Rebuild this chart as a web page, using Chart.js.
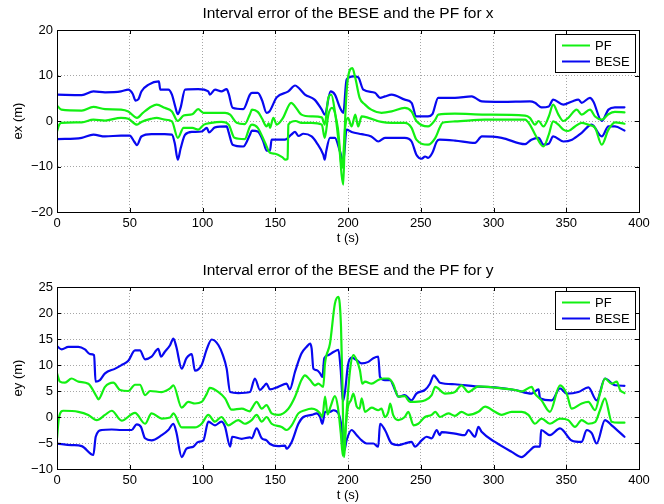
<!DOCTYPE html>
<html>
<head>
<meta charset="utf-8">
<script src="https://cdn.jsdelivr.net/npm/chart.js@4.4.1/dist/chart.umd.min.js"></script>
<style>
html,body{margin:0;padding:0;background:#fff;}
#wrap{position:relative;width:664px;height:504px;background:#fff;}
canvas{position:absolute;left:0;}
#c1{top:0;}
#c2{top:252px;}
</style>
</head>
<body>
<div id="wrap">
<canvas id="c1" width="664" height="252"></canvas>
<canvas id="c2" width="664" height="252"></canvas>
</div>
<script>
// ---------- axis settings ----------
const xTicksMax = 400, xStep = 50;
const exTicks = {min: -20, max: 20, step: 10};
const eyTicks = {min: -10, max: 25, step: 5};

// ---------- ex : PF upper ----------
const exPFUpT = [0,3,17,25,33,44,49,55,59,65,68.5,74,79,83,87,93,97,100.6,106,115.5,119,123.5,129,132.6,134,138,141,144,145.5,146.4,148.7,151,155,161,163.6,168,175,182,184,186.5,188.5,191,193,194.5,195.6,196.8,198,200,203,205,208,211.7,216,223,230,239,243.7,247,255,260,262,273.5,294,321.7,325,328.5,331,334.3,338,341,344.6,348,351.4,357.2,360.6,366.3,369.8,374.4,379,383.5,390];
const exPFUpV = [3.4,2.5,2.3,3.1,2.6,2.5,2.1,0.7,1.8,3.2,3.6,2.9,2.1,0,1.2,1.5,2.6,1.8,1.8,1.8,1.4,-0.4,-0.7,1.5,2.5,2.0,0.5,-1.2,-0.5,-1.5,0.7,-0.8,0.5,4.0,3.2,1.4,1.0,0.8,-0.8,5.1,5.8,2.1,-3,-7.4,-11.8,-14,0,9.5,11.6,9.5,5.1,3.6,2.5,1.8,2.1,2.9,2.1,0,-1.2,0.3,1.4,1.6,1.4,1.2,0.7,-0.8,0,-1.2,1.0,3.6,1.4,0,0.7,2.5,1.4,2.5,1.0,0.3,1.5,2.0,1.9];

// ---------- ex : PF lower ----------
const exPFLoT = [0,1.5,3,17,25,33,44,49,55,58,65,68.5,74,79,83,87,93,97,101,106,113,118,122,129,132.6,134,138,143,146.4,150,155,157,158.5,159,164,168,175,182,184,186.5,189,193,196,198,200,202.5,205,207,209.4,214,223,230,239,243.7,247,255,260,263,265,273.5,294,321.7,325,328.5,334.3,338,341,344.6,348,351.4,356,360.6,365,369.8,374.4,379,383.5,390];
const exPFLoV = [-2.3,-0.8,-0.4,-0.3,0.3,0.1,0.7,0.5,-0.8,-0.2,0.5,0.7,0.3,-0.1,-3.7,-1.5,-1.5,-1.9,-0.8,-0.4,-0.2,-0.8,-3.7,-4.0,-1.2,-0.8,-1.5,-4.8,-7.0,-7.2,-8.0,-8.5,-8.3,-0.8,0,-0.4,-0.4,-0.8,-3.7,1.4,2.9,-1.5,-10.3,-1.5,0.7,-1.2,1.4,-1.2,1.0,0.7,-0.2,-0.4,-0.4,-1.5,-4.1,-5.2,-3.7,-1.5,-0.4,-0.1,0.3,0.3,-0.8,-2.9,-5.6,-3.0,-0.1,-0.8,-1.9,-2.2,-1.2,-0.4,-0.8,-1.5,-5.2,-1.9,-0.3,-0.6];

// ---------- ex : BESE upper ----------
const exBeseUpT = [0,17,25,33,44,49,52,54,56,58,63,70,71,76.5,79,81,83,85,88,97,104,105,108.6,113,116.6,118,120.7,128,132.6,134,138,141,144,146,151,159,163.6,166,170.4,177,182,184,188,191,194.5,196.8,199,203.7,207,210.5,218.5,222,225.4,230,239,243.7,247,255,258,262,273.5,285,287.3,292,305.6,325,328.5,333,338,341,348,354,358.3,360.6,366.3,368.6,374.4,379,383.5,390];
const exBeseUpV = [5.8,5.7,6.5,6.3,6.5,6.9,6.0,4.5,4.8,6.5,8.0,8.7,6.9,6.9,5.8,3.5,1.5,3,6.9,7.0,6.5,5.8,6.9,6.5,7.0,6,2.9,2.6,5.8,6.2,6.2,4.5,1.8,2.1,5.2,6.5,7.8,7.3,5.8,4.7,2.5,1.4,6.5,5.8,2.9,1.8,9.1,9.8,9.6,6.9,6.2,5.1,5.4,5.8,4.7,4.0,1.0,1.0,1.5,5.1,5.1,5.4,5.1,4.3,4.2,4.3,4.0,3.0,3.2,4.7,3.6,4.3,4.7,4.0,5.1,4.3,0,2.5,3.0,3.0];

// ---------- ex : BESE lower ----------
const exBeseLoT = [0,17,25,33,44,50,53,55,58,65,74,79,81,83,85,88,93,99.4,103,104.5,108.6,116.6,118,120.7,128,132.6,134,138,141.8,144,146.4,147.5,156.7,161,163.6,166,169.3,175,178.5,183,184,185,187.6,191,194.5,196.8,199,202.5,209.4,216,220.8,225.4,239,243.7,247,250.6,253,255,258,261,263,273.5,287.3,292,305.6,321.7,326,331,334.3,338,341,348,354,360.6,367.5,374.4,379,383.5,390];
const exBeseLoV = [-4.0,-3.7,-3.0,-3.4,-3.2,-3.2,-4.5,-5.3,-3.4,-2.9,-2.9,-3.0,-5,-8.5,-6,-3.0,-2.4,-2.3,-1.5,-2.5,-1.4,-1.2,-2.5,-5.2,-5.6,-3.0,-2.1,-2.3,-4.5,-6.5,-6.5,-4.1,-4.1,-3.0,-2.4,-3.3,-2.8,-3.4,-4.8,-7.4,-8.5,-6.7,-3.7,-3.7,-6.7,-8.9,-1.9,-2.4,-2.9,-3.4,-4.5,-3.7,-3.7,-4.5,-7.4,-8.3,-7.8,-8.1,-7.0,-4.5,-4.1,-4.3,-4.8,-3.4,-3.7,-5.1,-4.1,-3.7,-5.2,-5.0,-3.4,-4.5,-4.1,-2.6,-0.8,-3.4,-1.2,-1.2,-2.1];

// ---------- ey : PF upper ----------
const eyPFUpT = [0,2,5.5,10,14.7,21.5,27.3,28.4,33,38.7,43.3,49,53.6,57,60.5,64,72,77.7,80,85.7,90.3,94.8,99.4,103,105,111,115.5,120,127,132.6,133.8,137.2,140.7,144,147.5,152,159,163.6,168,170.4,174,177.3,179.6,183,184.2,187.6,191,193.4,195.2,196.3,197.2,199,201.4,203.7,206,208.2,209.8,211.7,216.3,220.8,224.3,227.7,231,234.6,239,242.6,246,252.9,257.5,260,266.7,273.5,278,282.7,289.6,296.5,305.6,314.8,319.4,326.2,328.5,333,338.8,345.7,350.3,353.7,360.6,365.2,369.8,373.2,376.6,381.2,384.7,387,390];
const eyPFUpV = [8.4,6.8,6.6,7.4,6.8,6.4,3.9,3.4,5.8,6.6,5.2,5.0,6.2,6.2,4.2,5.0,4.8,5.5,6.1,1.8,2.9,2.6,2.9,4.5,5.6,4.8,3.6,1.4,1.6,1.1,1.6,2.9,1.6,2.3,0.7,0.4,1.6,3.9,7.1,8.0,7.1,6.1,6.4,5.8,10.3,14.1,21.8,23.1,17.3,4.5,-7.7,0.7,9.0,11.9,10.9,9.0,6.4,6.8,6.4,7.1,7.4,7.4,6.4,3.9,4.0,2.9,2.9,3.2,4.2,5.8,4.5,4.8,6.1,4.8,5.9,5.8,5.5,5.2,4.9,5.8,4.5,3.2,1.0,6.1,4.5,1.6,2.6,2.9,1.3,4.5,7.4,6.4,6.8,5.2,4.6];

// ---------- ey : PF lower ----------
const eyPFLoT = [0,1.4,4.4,14.7,21.5,27.3,33,37.6,44.4,53.6,60.5,65,72,77.7,80,85.7,94.8,99.4,104,108.6,113,117.8,124.6,129,133.8,137.2,140.7,144,147.5,154.4,157.8,161.3,165.9,170.4,175,178.5,180.8,182.4,184.2,186,188,191,193,195,196.5,198,200,202,203.7,206,208,209.4,211.7,216.3,220.8,223,225.4,227.7,229,231,234.6,239,241.5,245,248.3,252.9,257.5,260,263.2,269,273.5,278,282.7,289.6,294.2,301,305.6,312.5,319.4,324,328.5,333,338.8,345.7,351.4,356,360.6,365.2,369.8,373.2,376.6,381.2,385.8,390];
const eyPFLoV = [-4.1,0,1.2,1.0,0.4,-0.6,0.4,1.2,-0.7,0.8,-1.3,0.7,-0.3,-0.1,0.7,-2.0,-2.0,-1.3,0.4,-0.9,0,-1.6,-0.6,-1.3,-0.6,0.4,-0.9,0,-1.3,-1.9,-2.5,-1.6,0.7,1.3,1.6,1.3,0.7,0,3.9,0.5,2,4,2,-3,-7.5,-3,2,3.2,4.5,2.0,1.6,3.6,1.0,1.8,1.3,1.6,0,1.0,2.6,0.4,-0.6,0,1.0,-1.6,-1.3,0,0.4,1.0,0,0.7,0.2,1.0,0.4,1.0,2.0,1.0,0.4,1.0,1.0,0.4,-1.3,-0.3,-1.3,-0.3,-0.6,-1.9,-0.6,-1.3,-1.0,1.3,3.6,-0.9,-1.1,-1.1];

// ---------- ey : BESE upper ----------
const eyBeseUpT = [0,3.2,7.8,14.7,19.2,22.7,25.5,26.5,29.5,33,40,44.4,49,53.6,57,60.5,65,69.6,71.5,74,77.7,80,82,85.7,89,92.6,94.8,99.4,103,106.3,111,114,116.6,119,124.6,132.6,136,139.5,141.8,144,146.4,152,157.8,160,163.6,168,171.6,173.9,175,176.2,178.5,180.8,182.4,183.7,186.5,190,193.4,195,196.5,198,200,202.5,206,209.4,214,217.4,220.8,222,225.4,228.9,232.3,234.6,239,243.7,247,252.9,256.3,259,261,263.2,273.5,287.3,301,314.8,326.2,331,332,340,345.7,350.3,358.3,365.2,370.9,376.6,383.5,390];
const eyBeseUpV = [13.6,13.0,13.5,13.5,13.0,12.1,11.9,6.8,7.1,8.4,9.3,10.0,10.8,12.8,12.8,11.1,11.6,13.1,11.6,12.5,13.8,15.1,13.5,9.3,11.3,12.1,8.9,10.0,13.1,14.9,13.8,11.9,9.3,4.8,4.6,4.8,7.4,5.2,5.8,6.4,5.3,5.8,6.4,5.3,8.7,12.2,13.5,14.1,13.2,9.3,9.0,8.4,7.7,11.3,11.9,12.5,12.9,9,3,5,10,11.4,10.9,10.3,10.6,11.3,11.6,7.7,7.1,7.1,5.2,3.9,4.2,3.2,4.5,5.2,6.4,8.0,7.4,6.6,6.3,5.9,5.7,5.2,4.5,5.3,3.6,3.2,5.5,4.5,4.8,5.7,3.2,7.4,6.1,6.0];

// ---------- ey : BESE lower ----------
const eyBeseLoT = [0,10,17,25,26.6,30.7,37.6,44.4,51.3,54.8,57.7,60.5,65,72,76.5,80,82,85.7,89,93.7,97,100.6,104,108.6,113,115.5,119,120.4,127,132.6,133.8,137.2,140.7,144,146.4,152,156.7,157.8,161.3,165.9,169.3,175,178.5,180.8,182.4,184.2,187.6,190,193.4,195.6,197.5,199,202.5,206,209.4,212.8,217.4,220.8,222,225.4,230,234.6,239,243.7,246,250.6,254,257.5,261,263,264.4,273.5,280.4,282.7,287.3,289.6,292,301,312.5,319.4,324,328.5,332,332.7,338.8,345.7,353.7,360.6,364,367.5,370.9,376.6,381.2,390];
const eyBeseLoV = [-5.1,-5.4,-5.6,-7.3,-3.8,-2.5,-2.4,-2.5,-2.5,-1.4,-1.9,-4.1,-4.5,-3.5,-2.5,-1.3,-2.9,-7.7,-6.1,-5.7,-4.8,-4.5,-0.9,-1.6,-0.9,-1.9,-5.7,-3.8,-4.2,-3.9,-4.1,-2.2,-4.1,-4.5,-5.2,-5.6,-5.5,-6.1,-4.8,-1.3,0,0.4,0.7,0,-1.3,1.0,1.0,1.3,0.7,-1.9,-6.4,-4.5,-2.5,-3.5,-4.5,-5.1,-5.1,-5.7,-1.3,-2.5,-5.1,-5.4,-5.1,-4.8,-5.7,-4.5,-3.8,-4.1,-2.5,-3.5,-2.9,-3.2,-3.5,-2.5,-3.8,-1.9,-2.9,-4.8,-6.7,-7.7,-6.7,-5.7,-5.7,-2.5,-3.5,-2.2,-4.5,-4.8,-2.5,-3.1,-5.1,-0.6,-1.6,-3.8];

// ---------- styling ----------
const GREEN = 'rgb(18,240,18)';
const BLUE = 'rgb(8,8,240)';
const FONT = "'Liberation Sans', Arial, Helvetica, sans-serif";

function pts(t, v) { return t.map((x, i) => ({x: x, y: v[i]})); }
function line(label, color, t, v) {
  return {label, data: pts(t, v), borderColor: color, backgroundColor: color,
          borderWidth: 2.2, pointRadius: 0, cubicInterpolationMode: 'monotone',
          borderJoinStyle: 'round', borderCapStyle: 'round', fill: false};
}

const matlabBox = {
  id: 'matlabBox',
  afterDatasetsDraw(chart) {
    const {ctx, chartArea: a, scales: {x, y}} = chart;
    ctx.save();
    ctx.strokeStyle = '#000';
    ctx.lineWidth = 1;
    ctx.strokeRect(Math.round(a.left) + 0.5, Math.round(a.top) + 0.5,
                   Math.round(a.right - a.left), Math.round(a.bottom - a.top));
    ctx.beginPath();
    x.ticks.forEach(t => {
      const px = Math.round(x.getPixelForValue(t.value)) + 0.5;
      ctx.moveTo(px, a.bottom); ctx.lineTo(px, a.bottom - 4);
      ctx.moveTo(px, a.top); ctx.lineTo(px, a.top + 4);
    });
    y.ticks.forEach(t => {
      const py = Math.round(y.getPixelForValue(t.value)) + 0.5;
      ctx.moveTo(a.left, py); ctx.lineTo(a.left + 4, py);
      ctx.moveTo(a.right, py); ctx.lineTo(a.right - 4, py);
    });
    ctx.stroke();
    ctx.restore();
  }
};

const boxLegend = {
  id: 'boxLegend',
  afterDraw(chart) {
    const {ctx, chartArea: a} = chart;
    const seen = {};
    const items = [];
    chart.data.datasets.forEach(d => {
      if (!seen[d.label]) { seen[d.label] = 1; items.push({text: d.label, color: d.borderColor}); }
    });
    const w = 80, h = 38;
    const x0 = Math.round(a.right) - 4 - w, y0 = Math.round(a.top) + 4;
    ctx.save();
    ctx.fillStyle = '#fff';
    ctx.fillRect(x0, y0, w, h);
    ctx.strokeStyle = '#000';
    ctx.lineWidth = 1;
    ctx.strokeRect(x0 + 0.5, y0 + 0.5, w, h);
    ctx.font = '13px ' + FONT;
    ctx.textBaseline = 'middle';
    ctx.textAlign = 'left';
    items.forEach((it, i) => {
      const cy = y0 + 11.5 + i * 16;
      ctx.strokeStyle = it.color;
      ctx.lineWidth = 2;
      ctx.beginPath();
      ctx.moveTo(x0 + 7, cy); ctx.lineTo(x0 + 35, cy);
      ctx.stroke();
      ctx.fillStyle = '#000';
      ctx.fillText(it.text, x0 + 40, cy + 0.5);
    });
    ctx.restore();
  }
};

function makeChart(id, titleText, yLabel, yt, areaTop, areaBottom, datasets) {
  const canvasH = 252;
  const titleSize = 15.5, titleLH = titleSize * 1.2;
  const titleCenter = areaTop - 16;
  const tPadTop = titleCenter - titleLH / 2;
  const tPadBot = areaTop - tPadTop - titleLH;
  const tickSize = 13, tickLH = tickSize * 1.2;
  const labSize = 13, labLH = labSize * 1.2;
  const xHeight = canvasH - areaBottom;
  const xTitlePadBottom = canvasH - labLH / 2 - (areaBottom + 26);
  const minus = v => String(v).replace('-', '\u2212');
  return new Chart(document.getElementById(id), {
    type: 'line',
    data: {datasets},
    plugins: [matlabBox, boxLegend],
    options: {
      responsive: false,
      animation: false,
      events: [],
      layout: {padding: {left: 0, right: 25, top: 0, bottom: 0}},
      plugins: {
        legend: {display: false},
        tooltip: {enabled: false},
        title: {
          display: true, text: titleText, fullSize: false, color: '#000',
          font: {family: FONT, size: titleSize, weight: 'normal', lineHeight: 1.2},
          padding: {top: tPadTop, bottom: tPadBot}
        }
      },
      scales: {
        x: {
          type: 'linear', min: 0, max: xTicksMax,
          afterFit: s => { s.height = xHeight; },
          ticks: {stepSize: xStep, autoSkip: false, maxRotation: 0, color: '#000', padding: 11.5 - tickLH / 2,
                  font: {family: FONT, size: tickSize, lineHeight: 1.2}, callback: minus},
          grid: {color: '#a6a6a6', lineWidth: 1, drawTicks: false},
          border: {display: true, color: '#000', width: 1, dash: [1, 2]},
          title: {display: true, text: 't (s)', color: '#000',
                  font: {family: FONT, size: labSize, lineHeight: 1.2},
                  padding: {top: 0, bottom: xTitlePadBottom}}
        },
        y: {
          type: 'linear', min: yt.min, max: yt.max,
          afterFit: s => { s.width = 57; },
          ticks: {stepSize: yt.step, autoSkip: false, color: '#000', padding: 4,
                  font: {family: FONT, size: tickSize, lineHeight: 1.2}, callback: minus},
          grid: {color: '#a6a6a6', lineWidth: 1, drawTicks: false},
          border: {display: true, color: '#000', width: 1, dash: [1, 2]},
          title: {display: true, text: yLabel, color: '#000',
                  font: {family: FONT, size: labSize, lineHeight: 1.2},
                  padding: {top: 18 - labLH / 2, bottom: 0}}
        }
      }
    }
  });
}

makeChart('c1', 'Interval error of the BESE and the PF for x', 'ex (m)', exTicks, 30, 212, [
  line('PF', GREEN, exPFUpT, exPFUpV),
  line('PF', GREEN, exPFLoT, exPFLoV),
  line('BESE', BLUE, exBeseUpT, exBeseUpV),
  line('BESE', BLUE, exBeseLoT, exBeseLoV)
]);

makeChart('c2', 'Interval error of the BESE and the PF for y', 'ey (m)', eyTicks, 35, 217, [
  line('PF', GREEN, eyPFUpT, eyPFUpV),
  line('PF', GREEN, eyPFLoT, eyPFLoV),
  line('BESE', BLUE, eyBeseUpT, eyBeseUpV),
  line('BESE', BLUE, eyBeseLoT, eyBeseLoV)
]);
</script>
</body>
</html>
